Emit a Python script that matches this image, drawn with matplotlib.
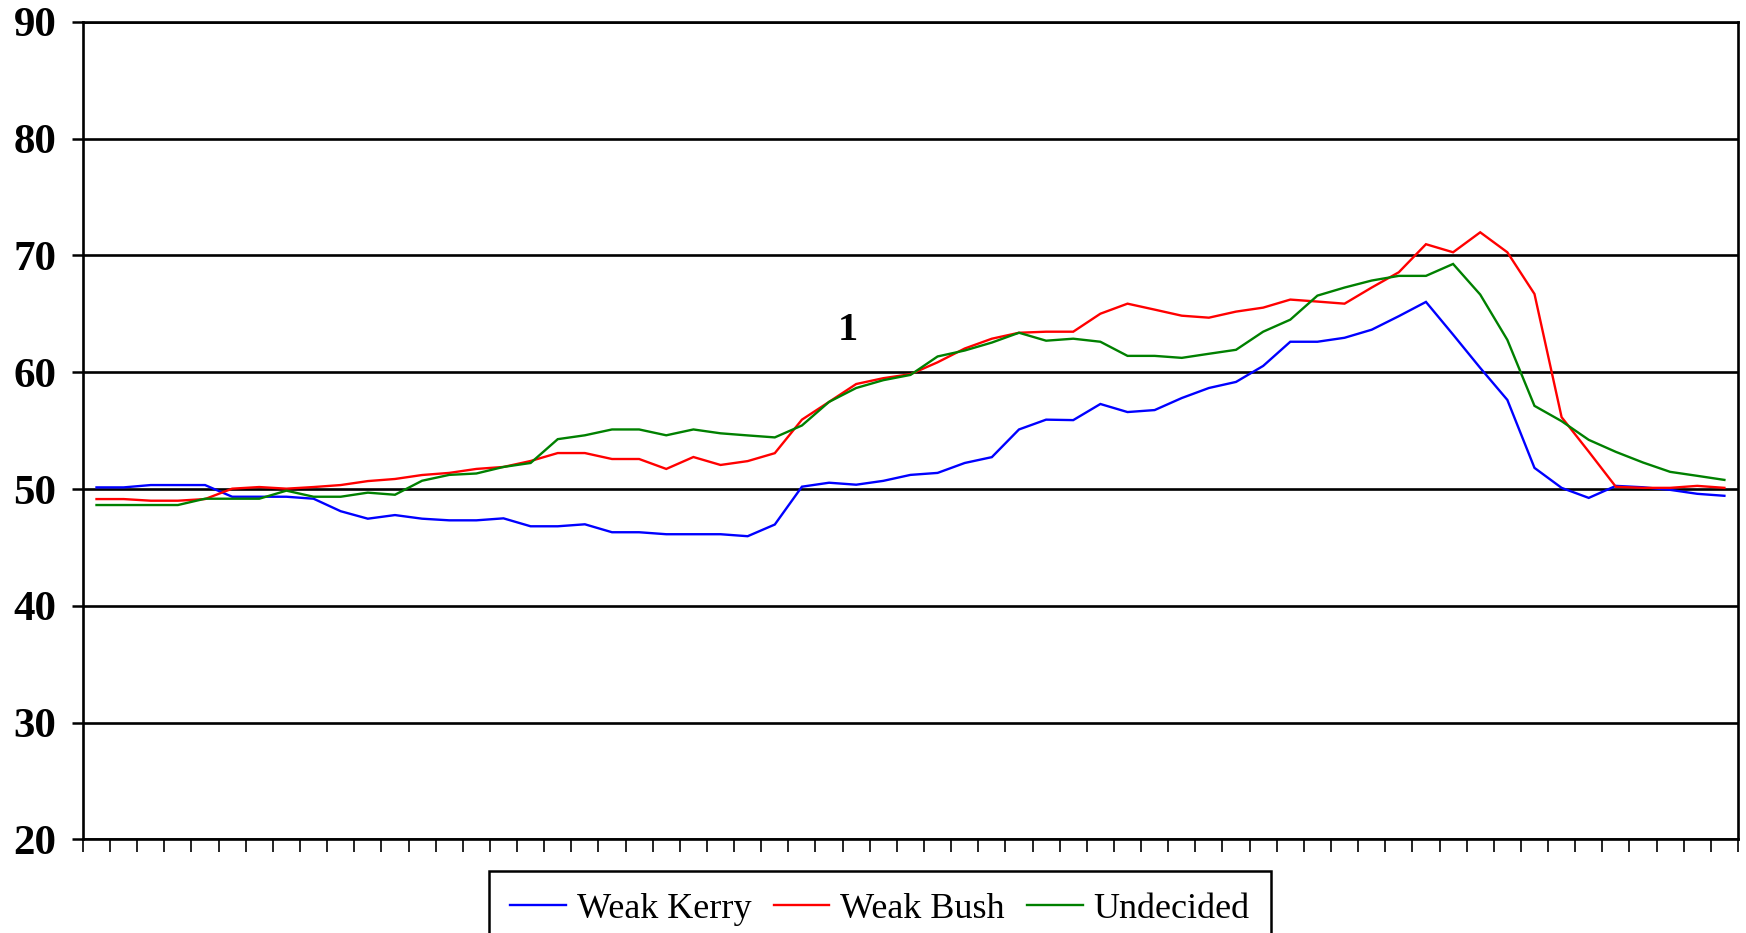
import matplotlib
matplotlib.use("Agg")
import matplotlib.pyplot as plt
import numpy as np

series_names = ["Weak Kerry", "Weak Bush", "Undecided"]
series_colors = ["#0000FF", "#FF0000", "#008000"]

weak_kerry = [50.14, 50.14, 50.34, 50.34, 50.34, 49.34, 49.34, 49.34, 49.17, 48.1,
              47.46, 47.77, 47.46, 47.32, 47.32, 47.49, 46.81, 46.81, 46.98, 46.3,
              46.3, 46.13, 46.13, 46.13, 45.96, 46.96, 50.2, 50.54, 50.37, 50.7,
              51.21, 51.38, 52.23, 52.73, 55.1, 55.94, 55.9, 57.28, 56.59, 56.76,
              57.79, 58.65, 59.17, 60.54, 62.61, 62.61, 62.95, 63.64, 64.8, 66.02,
              63.22, 60.37, 57.63, 51.81, 50.1, 49.24, 50.27, 50.15, 49.93, 49.59,
              49.42]
weak_bush = [49.14, 49.14, 49.0, 49.0, 49.14, 50.03, 50.17, 50.03, 50.17, 50.34,
             50.68, 50.86, 51.2, 51.38, 51.72, 51.89, 52.4, 53.08, 53.08, 52.57,
             52.57, 51.72, 52.74, 52.06, 52.39, 53.07, 55.94, 57.46, 58.99, 59.49,
             59.83, 60.85, 62.03, 62.87, 63.38, 63.47, 63.47, 65.01, 65.87, 65.36,
             64.84, 64.67, 65.19, 65.53, 66.22, 66.05, 65.87, 67.25, 68.56, 70.96,
             70.27, 71.98, 70.27, 66.7, 56.15, 53.2, 50.19, 50.1, 50.1, 50.27,
             50.1]
undecided = [48.63, 48.63, 48.63, 48.63, 49.17, 49.17, 49.17, 49.86, 49.34, 49.34,
             49.69, 49.51, 50.71, 51.21, 51.33, 51.89, 52.23, 54.27, 54.6, 55.1,
             55.1, 54.6, 55.1, 54.77, 54.59, 54.42, 55.44, 57.46, 58.65, 59.32,
             59.77, 61.35, 61.86, 62.54, 63.38, 62.7, 62.87, 62.61, 61.4, 61.4,
             61.23, 61.58, 61.92, 63.47, 64.5, 66.56, 67.25, 67.85, 68.25, 68.25,
             69.27, 66.65, 62.77, 57.12, 55.81, 54.21, 53.18, 52.27, 51.47, 51.13,
             50.78]
y_ticks = [20, 30, 40, 50, 60, 70, 80, 90]
annotation_text = "1"
annotation_pos = (27.68, 63.57)

serif = ["Liberation Serif", "DejaVu Serif"]

fig = plt.figure(figsize=(17.46, 9.33), dpi=100)
ax = fig.add_axes([0.0475, 0.1003, 0.9954 - 0.0475, 0.9766 - 0.1003])

x = np.arange(len(weak_kerry))
for vals, name, col in zip([weak_kerry, weak_bush, undecided], series_names, series_colors):
    ax.plot(x, vals, color=col, lw=1.7, label=name, solid_joinstyle="miter")

ax.set_xlim(-0.5, len(weak_kerry) - 0.5)
ax.set_ylim(20, 90)
ax.set_yticks(y_ticks)
ax.set_yticklabels([str(v) for v in y_ticks], fontfamily=serif, fontweight="bold", fontsize=31)
ax.set_xticks(np.arange(-0.5, len(weak_kerry)))
ax.set_xticklabels([])
ax.tick_params(axis="x", direction="out", length=9, width=1.2, color="black")
ax.tick_params(axis="y", direction="out", length=8, width=1.8, color="black", pad=11)

for yv in y_ticks:
    ax.axhline(yv, color="black", lw=1.9, zorder=1)
for sp in ax.spines.values():
    sp.set_color("black")
    sp.set_linewidth(1.9)

ax.text(annotation_pos[0], annotation_pos[1], annotation_text, fontfamily=serif,
        fontweight="bold", fontsize=29, ha="center", va="center")

leg = fig.legend(loc="upper center", bbox_to_anchor=(0.504, 0.0665), ncol=3,
                 frameon=True, fancybox=False, edgecolor="black", framealpha=1,
                 prop={"family": serif, "size": 26}, handlelength=1.55,
                 handletextpad=0.3, columnspacing=0.6, borderpad=0.6,
                 borderaxespad=0)
leg.get_frame().set_linewidth(1.8)

fig.savefig("out.png", dpi=100)
